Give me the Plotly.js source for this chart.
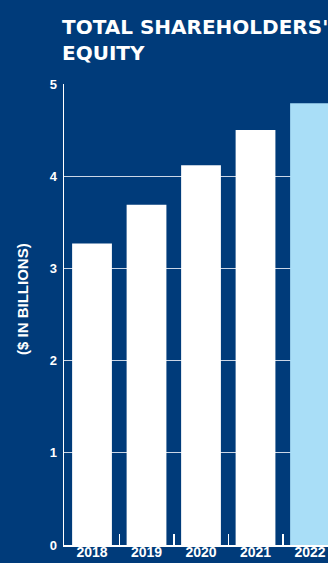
<!DOCTYPE html>
<html>
<head>
<meta charset="utf-8">
<script src="https://cdn.plot.ly/plotly-3.0.1.min.js"></script>
<style>
html,body{margin:0;padding:0;background:#003b7a;overflow:hidden;}
#chart{width:328px;height:563px;}
</style>
</head>
<body>
<div id="chart"></div>
<script>
const years = ["2018", "2019", "2020", "2021", "2022"];
const equity = [3.27, 3.69, 4.12, 4.50, 4.79];
const barColors = ["#ffffff", "#ffffff", "#ffffff", "#ffffff", "#a9def7"];
const yTicks = [0, 1, 2, 3, 4, 5];
const titleText = "TOTAL SHAREHOLDERS'<br>EQUITY";
const yTitle = "($ IN BILLIONS)";

const bg = "#003b7a";
const trace = {
  type: "bar",
  x: years,
  y: equity,
  width: 0.73,
  marker: {color: barColors, line: {width: 0}},
  hoverinfo: "skip"
};

const layout = {
  width: 328,
  height: 563,
  paper_bgcolor: bg,
  plot_bgcolor: bg,
  margin: {l: 64, r: 0, t: 84, b: 18, pad: 0},
  showlegend: false,
  title: {
    text: titleText,
    x: 62 / 328,
    xref: "container",
    xanchor: "left",
    y: 1 - 34 / 563,
    yref: "container",
    yanchor: "top",
    font: {family: "DejaVu Sans", size: 20, color: "#ffffff", weight: "bold"}
  },
  xaxis: {
    type: "category",
    range: [-0.514, 4.33],
    showgrid: false,
    showline: true,
    linecolor: "#ffffff",
    linewidth: 1.5,
    ticks: "inside",
    tickson: "boundaries",
    ticklen: 11,
    tickwidth: 1.5,
    tickcolor: "#ffffff",
    ticklabelstandoff: -6,
    tickfont: {family: "Liberation Sans", size: 14, color: "#ffffff", weight: "bold"},
    fixedrange: true
  },
  yaxis: {
    range: [0, 5],
    tickvals: yTicks,
    ticktext: yTicks.map(String),
    showgrid: true,
    gridcolor: "rgba(225,232,242,0.9)",
    gridwidth: 1,
    zeroline: false,
    showline: true,
    linecolor: "#ffffff",
    linewidth: 1.5,
    ticks: "",
    ticklabelstandoff: 3,
    tickfont: {family: "Liberation Sans", size: 13, color: "#ffffff", weight: "bold"},
    fixedrange: true
  },
  annotations: [{
    text: yTitle,
    xref: "paper",
    yref: "paper",
    x: (22 - 64) / 264,
    y: (545 - 299) / 461,
    xanchor: "center",
    yanchor: "middle",
    textangle: -90,
    showarrow: false,
    font: {family: "Liberation Sans", size: 15, color: "#ffffff", weight: "bold"}
  }]
};

Plotly.newPlot("chart", [trace], layout, {displayModeBar: false, staticPlot: true});
</script>
</body>
</html>
